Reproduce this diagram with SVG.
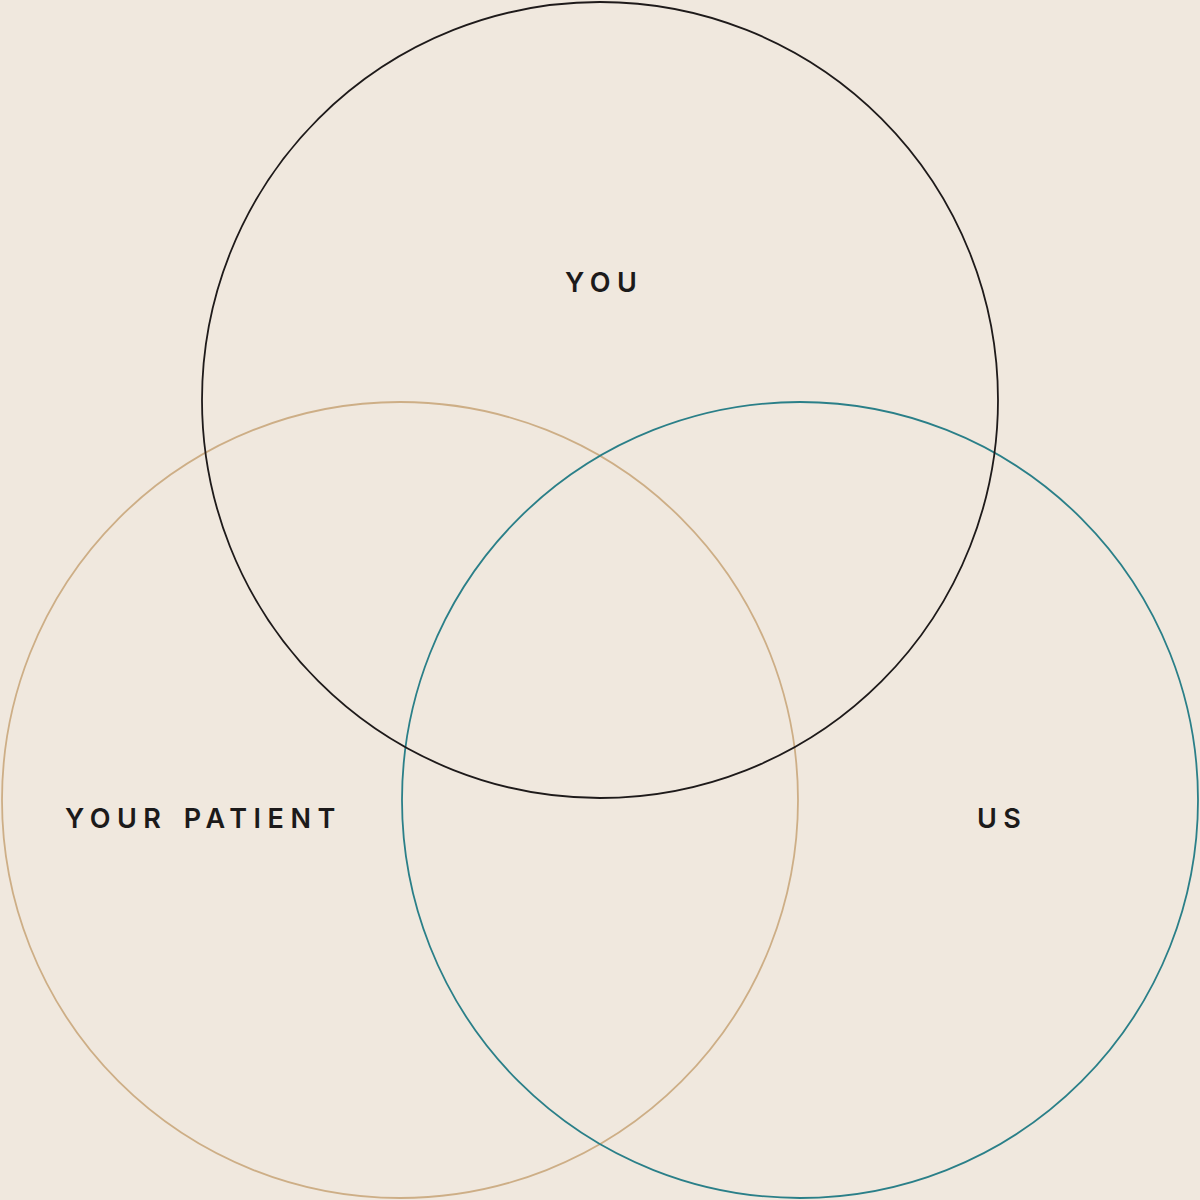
<svg xmlns="http://www.w3.org/2000/svg" width="1200" height="1200" viewBox="0 0 1200 1200">
  <style>
    .ring { fill: none; stroke-width: 1.8; }
    .lbl { font-family: Inter, "Liberation Sans", sans-serif; font-size: 27px; font-weight: 600; fill: #1c1a1a; letter-spacing: 6.5px; word-spacing: 3px; }
  </style>
  <rect x="0" y="0" width="1200" height="1200" fill="#F0E8DE"/>
  <g id="connectors"></g>
  <g id="node-patient">
    <circle class="ring" cx="400" cy="800" r="398" stroke="#CDAE86"/>
    <text class="lbl" x="65" y="828">YOUR PATIENT</text>
  </g>
  <g id="node-us">
    <circle class="ring" cx="800" cy="800" r="398" stroke="#2A7F88"/>
    <text class="lbl" x="977" y="828">US</text>
  </g>
  <g id="node-you">
    <circle class="ring" cx="600" cy="400" r="398" stroke="#1E1A1A"/>
    <text class="lbl" x="565" y="292">YOU</text>
  </g>
</svg>
